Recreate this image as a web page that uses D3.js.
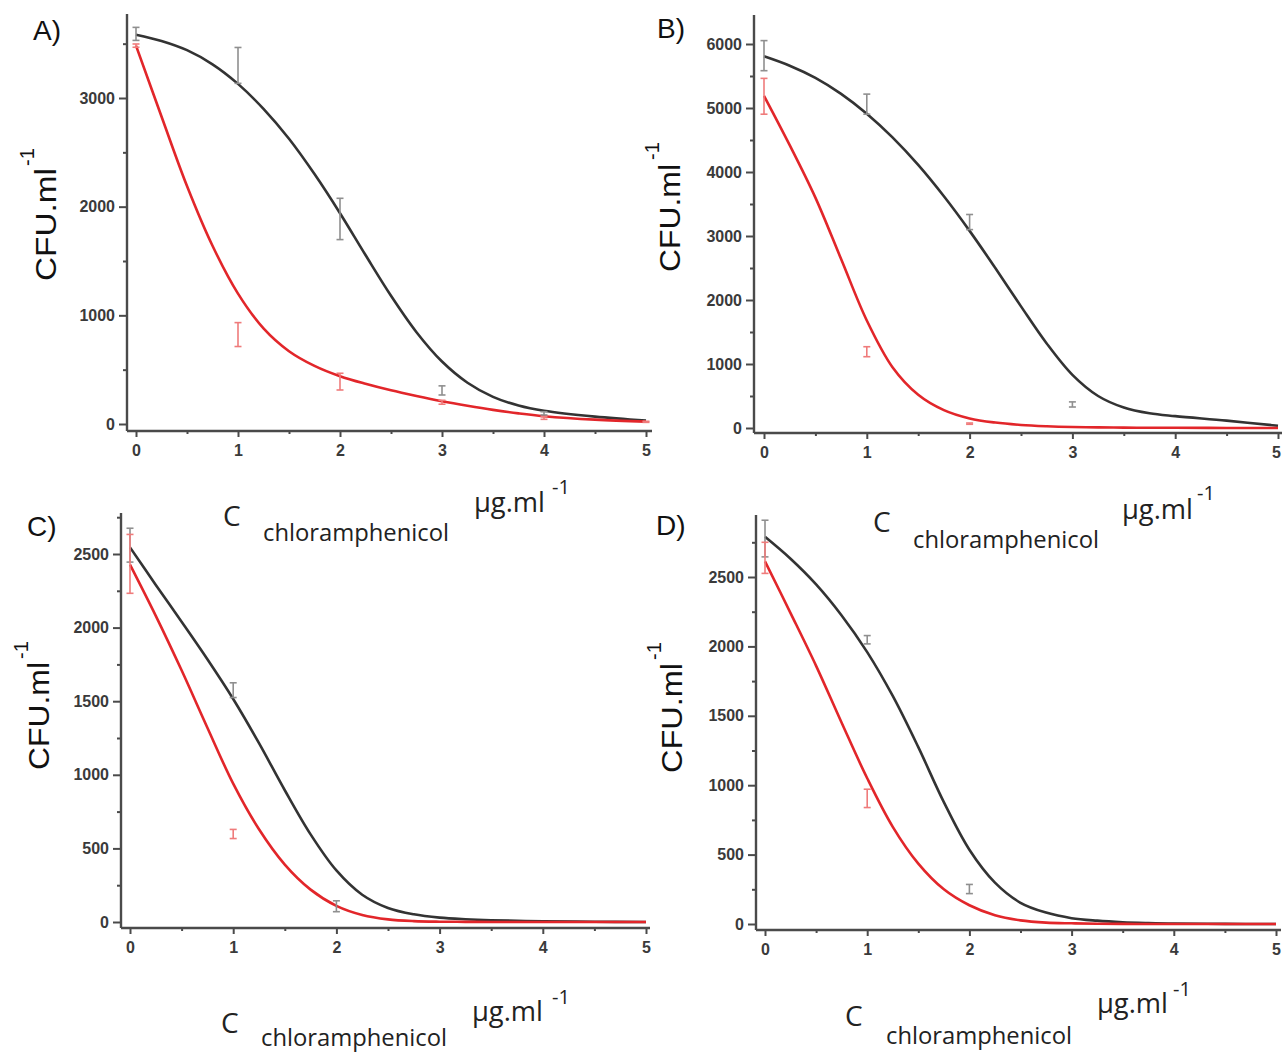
<!DOCTYPE html>
<html><head><meta charset="utf-8">
<script src="https://cdn.jsdelivr.net/npm/d3@7"></script>
<style>body{margin:0;background:#fff}svg{display:block}</style>
</head><body>
<svg id="chart" width="1282" height="1054"></svg>
<script>
// ---------------- DATA ----------------
const doses = [0, 1, 2, 3, 4, 5];
const fitX = [0, 0.25, 0.5, 0.75, 1, 1.25, 1.5, 1.75, 2, 2.25, 2.5, 2.75, 3, 3.25, 3.5, 3.75, 4, 4.5, 5];
const xTickValues = [0, 1, 2, 3, 4, 5];
const xMinorTicks = [0.5, 1.5, 2.5, 3.5, 4.5];

// Panel A
const fitBlackA = [3583, 3525, 3440, 3310, 3130, 2900, 2625, 2300, 1940, 1555, 1180, 845, 575, 380, 250, 170, 122, 68, 31];
const fitRedA   = [3482, 2830, 2190, 1640, 1200, 880, 670, 535, 440, 370, 310, 258, 210, 168, 130, 98, 72, 40, 22];
const meanBlackA = [3590, 3300, 1887, 309, 98, null];
const errBlackA  = [60, 165, 190, 42, 15, null];
const meanRedA   = [3482, 823, 390, 200, 55, 20];
const errRedA    = [15, 110, 77, 18, 12, 5];
const yTicksA = [0, 1000, 2000, 3000];
const yMinorA = [500, 1500, 2500, 3500];

// Panel B
const fitBlackB = [5807, 5660, 5470, 5220, 4910, 4540, 4110, 3620, 3080, 2500, 1900, 1320, 830, 500, 320, 230, 185, 115, 35];
const fitRedB   = [5191, 4420, 3600, 2640, 1680, 950, 520, 280, 150, 85, 48, 28, 16, 10, 6, 4, 3, 1, 0];
const meanBlackB = [5818, 5060, 3218, 368, null, null];
const errBlackB  = [235, 157, 118, 40, null, null];
const meanRedB   = [5183, 1192, 68, null, null, null];
const errRedB    = [280, 78, 10, null, null, null];
const yTicksB = [0, 1000, 2000, 3000, 4000, 5000, 6000];
const yMinorB = [500, 1500, 2500, 3500, 4500, 5500];

// Panel C
const fitBlackC = [2545, 2290, 2040, 1785, 1515, 1215, 895, 595, 350, 185, 95, 52, 30, 19, 12, 8, 5, 2, 0];
const fitRedC   = [2428, 2080, 1710, 1320, 940, 630, 390, 220, 110, 48, 18, 6, 2, 1, 0, 0, 0, 0, 0];
const meanBlackC = [2560, 1575, 107, null, null, null];
const errBlackC  = [115, 50, 37, null, null, null];
const meanRedC   = [2433, 598, null, null, null, null];
const errRedC    = [200, 31, null, null, null, null];
const yTicksC = [0, 500, 1000, 1500, 2000, 2500];
const yMinorC = [250, 750, 1250, 1750, 2250, 2750];

// Panel D
const fitBlackD = [2790, 2632, 2447, 2223, 1959, 1643, 1274, 878, 535, 298, 153, 82, 42, 24, 13, 7, 3, 1, 0];
const fitRedD   = [2613, 2240, 1860, 1450, 1050, 700, 435, 250, 135, 63, 26, 10, 5, 2, 1, 0, 0, 0, 0];
const meanBlackD = [2777, 2048, 252, null, null, null];
const errBlackD  = [132, 30, 33, null, null, null];
const meanRedD   = [2638, 905, null, null, null, null];
const errRedD    = [112, 66, null, null, null, null];
const yTicksD = [0, 500, 1000, 1500, 2000, 2500];
const yMinorD = [250, 750, 1250, 1750, 2250, 2750];

const panelLabels = ["A)", "B)", "C)", "D)"];
const yTitle = "CFU.ml";
const titleC = "C";
const titleSub = "chloramphenicol";
const titleUnit = "µg.ml";
const titleExp = "-1";

// ---------------- LAYOUT ----------------
const layout = [
  {x0:136, x5:646, y0:424, yRefV:3000, yRef:98,  axL:127, axT:14,  axB:431, axR:652,
   lab:[33,40], yt:{bx:56, sy:281, len:113, sbx:34, ssy:166},
   xt:{c:[223,526], s:[263,541], u:[474,512], e:[552,494]}},
  {x0:764, x5:1278, y0:428, yRefV:6000, yRef:44, axL:754, axT:15, axB:433, axR:1282,
   lab:[657,38], yt:{bx:680, sy:272, len:108, sbx:659, ssy:160},
   xt:{c:[873,532], s:[913,548], u:[1122,519], e:[1197,500]}},
  {x0:130, x5:646, y0:922, yRefV:2500, yRef:554, axL:121, axT:513, axB:928, axR:650,
   lab:[27,536], yt:{bx:49, sy:770, len:108, sbx:28, ssy:659},
   xt:{c:[221,1033], s:[261,1046], u:[472,1021], e:[552,1004]}},
  {x0:765, x5:1276, y0:924, yRefV:2500, yRef:577, axL:756, axT:515, axB:930, axR:1281,
   lab:[656,535], yt:{bx:682, sy:773, len:110, sbx:661, ssy:660},
   xt:{c:[845,1026], s:[886,1044], u:[1097,1013], e:[1173,996]}}
];

const panelData = [
  {fb:fitBlackA, fr:fitRedA, mb:meanBlackA, eb:errBlackA, mr:meanRedA, er:errRedA, yt:yTicksA, ym:yMinorA},
  {fb:fitBlackB, fr:fitRedB, mb:meanBlackB, eb:errBlackB, mr:meanRedB, er:errRedB, yt:yTicksB, ym:yMinorB},
  {fb:fitBlackC, fr:fitRedC, mb:meanBlackC, eb:errBlackC, mr:meanRedC, er:errRedC, yt:yTicksC, ym:yMinorC},
  {fb:fitBlackD, fr:fitRedD, mb:meanBlackD, eb:errBlackD, mr:meanRedD, er:errRedD, yt:yTicksD, ym:yMinorD}
];

const svg = d3.select("#chart");
const AX = "#4a4a4a";
const tickFont = "'Liberation Sans', Arial, sans-serif";
const titleFont = "'Open Sans', 'Noto Sans', sans-serif";
const fmt = d3.format("d");

panelData.forEach((pd, i) => {
  const L = layout[i];
  const g = svg.append("g");
  const x = d3.scaleLinear().domain([0, 5]).range([L.x0, L.x5]);
  const y = d3.scaleLinear().domain([0, L.yRefV]).range([L.y0, L.yRef]);
  const yTop = y.invert(L.axT);

  // axis lines
  g.append("line").attr("x1", L.axL).attr("x2", L.axL).attr("y1", L.axT).attr("y2", L.axB)
    .attr("stroke", AX).attr("stroke-width", 2.4);
  g.append("line").attr("x1", L.axL).attr("x2", L.axR).attr("y1", L.axB).attr("y2", L.axB)
    .attr("stroke", AX).attr("stroke-width", 2.4);

  const yAx = g.append("g").attr("transform", `translate(${L.axL},0)`)
    .call(d3.axisLeft(y).tickValues(pd.yt).tickFormat(fmt).tickSize(8).tickSizeOuter(0).tickPadding(4));
  const yAxMinor = g.append("g").attr("transform", `translate(${L.axL},0)`)
    .call(d3.axisLeft(y).tickValues(pd.ym.filter(v => v < yTop)).tickSize(4).tickSizeOuter(0).tickFormat(""));
  const xAx = g.append("g").attr("transform", `translate(0,${L.axB})`)
    .call(d3.axisBottom(x).tickValues(xTickValues).tickFormat(fmt).tickSize(6).tickSizeOuter(0).tickPadding(8));
  const xAxMinor = g.append("g").attr("transform", `translate(0,${L.axB})`)
    .call(d3.axisBottom(x).tickValues(xMinorTicks).tickSize(3).tickSizeOuter(0).tickFormat(""));
  [yAx, yAxMinor, xAx, xAxMinor].forEach(a => {
    a.select(".domain").remove();
    a.selectAll(".tick line").attr("stroke", AX).attr("stroke-width", 2);
    a.selectAll(".tick text").attr("fill", "#3a3a3a").style("font-family", tickFont)
      .style("font-size", "16px").style("font-weight", "bold");
  });
  // keep right-most label inside the picture
  xAx.selectAll(".tick text").each(function(d) {
    const over = x(d) + 5 - 1281;
    if (over > 0) d3.select(this).attr("dx", -over);
  });

  // fitted curves
  const line = d3.line().x(d => x(d[0])).y(d => y(d[1])).curve(d3.curveCatmullRom.alpha(0.5));
  g.append("path").datum(fitX.map((v, k) => [v, pd.fb[k]])).attr("d", line)
    .attr("fill", "none").attr("stroke", "#333333").attr("stroke-width", 2.6);
  g.append("path").datum(fitX.map((v, k) => [v, pd.fr[k]])).attr("d", line)
    .attr("fill", "none").attr("stroke", "#e2262a").attr("stroke-width", 2.6);

  // error bars
  function bars(means, errs, color) {
    doses.forEach((d, k) => {
      if (means[k] == null) return;
      const xc = x(d), yt = y(means[k] + errs[k]), yb = y(means[k] - errs[k]);
      const eg = g.append("g").attr("stroke", color).attr("stroke-width", 1.6);
      eg.append("line").attr("x1", xc).attr("x2", xc).attr("y1", yt).attr("y2", yb);
      eg.append("line").attr("x1", xc - 3.5).attr("x2", xc + 3.5).attr("y1", yt).attr("y2", yt);
      eg.append("line").attr("x1", xc - 3.5).attr("x2", xc + 3.5).attr("y1", yb).attr("y2", yb);
    });
  }
  bars(pd.mb, pd.eb, "#8f8f8f");
  bars(pd.mr, pd.er, "#ef7b7b");

  // panel label
  g.append("text").attr("x", L.lab[0]).attr("y", L.lab[1]).text(panelLabels[i])
    .style("font-family", tickFont).style("font-size", "28px").attr("fill", "#111");

  // y title
  g.append("text").attr("transform", `translate(${L.yt.bx},${L.yt.sy}) rotate(-90)`)
    .attr("textLength", L.yt.len).attr("lengthAdjust", "spacingAndGlyphs")
    .text(yTitle).style("font-family", tickFont).style("font-size", "30px").attr("fill", "#111");
  g.append("text").attr("transform", `translate(${L.yt.sbx},${L.yt.ssy}) rotate(-90)`)
    .text(titleExp).style("font-family", tickFont).style("font-size", "20px").attr("fill", "#111");

  // x title
  const xt = L.xt;
  g.append("text").attr("x", xt.c[0]).attr("y", xt.c[1]).text(titleC)
    .style("font-family", titleFont).style("font-size", "28px").attr("fill", "#222");
  g.append("text").attr("x", xt.s[0]).attr("y", xt.s[1]).text(titleSub)
    .attr("textLength", 186).attr("lengthAdjust", "spacingAndGlyphs")
    .style("font-family", titleFont).style("font-size", "24px").attr("fill", "#222");
  g.append("text").attr("x", xt.u[0]).attr("y", xt.u[1]).text(titleUnit)
    .attr("textLength", 71).attr("lengthAdjust", "spacingAndGlyphs")
    .style("font-family", titleFont).style("font-size", "27px").attr("fill", "#222");
  g.append("text").attr("x", xt.e[0]).attr("y", xt.e[1]).text(titleExp)
    .style("font-family", titleFont).style("font-size", "20px").attr("fill", "#222");
});
</script>
</body></html>
